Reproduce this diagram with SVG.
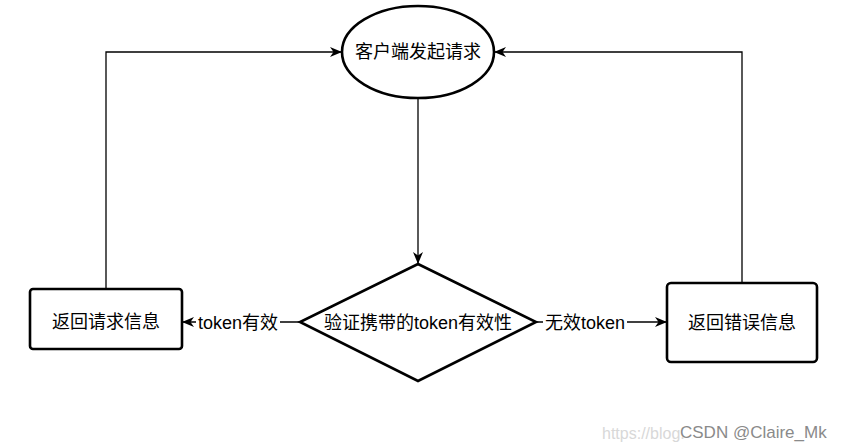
<svg xmlns="http://www.w3.org/2000/svg" width="853" height="447" viewBox="0 0 853 447">
<style>
.shape{fill:#fff;stroke:#000;stroke-width:2.6}
.conn{fill:none;stroke:#000;stroke-width:1.3}
.t{font-family:"Liberation Sans","Noto Sans CJK SC",sans-serif;font-size:18px;fill:#000;text-anchor:middle;dominant-baseline:central}
.lbl{fill:#fff;stroke:none}
</style>
<defs>
<marker id="arr" viewBox="0 0 12 10" refX="11" refY="5" markerWidth="12" markerHeight="10" markerUnits="userSpaceOnUse" orient="auto">
<path d="M0,0 L12,5 L0,10 L3.5,5 Z" fill="#000"/>
</marker>
</defs>
<rect width="853" height="447" fill="#fff"/>
<g id="connectors">
<path class="conn" d="M418,98 L418,263" marker-end="url(#arr)"/>
<path class="conn" d="M300,322 L183,322" marker-end="url(#arr)"/>
<path class="conn" d="M536,322 L666,322" marker-end="url(#arr)"/>
<path class="conn" d="M106,289 L106,52 L341,52" marker-end="url(#arr)"/>
<path class="conn" d="M742,283 L742,52 L495,52" marker-end="url(#arr)"/>
<rect class="lbl" x="196" y="312" width="84" height="22"/>
<text class="t" x="238" y="323">token有效</text>
<rect class="lbl" x="543" y="312" width="84" height="22"/>
<text class="t" x="585" y="323">无效token</text>
</g>
<g id="start">
<ellipse class="shape" cx="418" cy="52" rx="76" ry="46"/>
<text class="t" x="418" y="52">客户端发起请求</text>
</g>
<g id="check">
<polygon class="shape" points="418,264 536,322 418,381 300,322"/>
<text class="t" x="418" y="323">验证携带的token有效性</text>
</g>
<g id="ok">
<rect class="shape" x="30" y="289" width="152" height="60" rx="3"/>
<text class="t" x="106" y="322">返回请求信息</text>
</g>
<g id="err">
<rect class="shape" x="667" y="283" width="150" height="79" rx="4"/>
<text class="t" x="742" y="323">返回错误信息</text>
</g>
<g id="watermark">
<text x="602" y="433" font-family="Liberation Sans,sans-serif" font-size="16" fill="#d8d8d8" dominant-baseline="central">https://blog.</text>
<text x="680" y="432" font-family="Liberation Sans,sans-serif" font-size="17" fill="#8a8a8a" dominant-baseline="central">CSDN @Claire_Mk</text>
</g>
</svg>
